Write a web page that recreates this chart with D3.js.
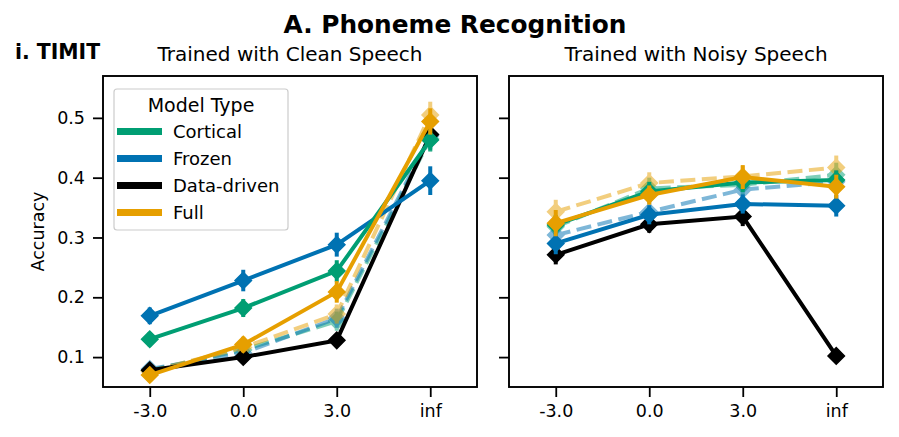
<!DOCTYPE html>
<html>
<head>
<meta charset="utf-8">
<script src="https://cdn.jsdelivr.net/npm/d3@7"></script>
<style>
  body { margin: 0; background: #fff; }
  svg { font-family: "DejaVu Sans", sans-serif; }
</style>
</head>
<body>
<svg id="chart" width="899" height="437"></svg>
<script>
// x categories (SNR in dB)
const snrLabels = ["-3.0", "0.0", "3.0", "inf"];
const modelTypes = ["Cortical", "Frozen", "Data-driven", "Full"];
const modelColors = ["#009e73", "#0072b2", "#000000", "#e69f00"];
const yTicks = [0.1, 0.2, 0.3, 0.4, 0.5];

// trained with clean speech, solid lines
const cleanCortical   = [0.130, 0.182, 0.244, 0.463];
const cleanFrozen     = [0.169, 0.228, 0.288, 0.395];
const cleanDataDriven = [0.078, 0.100, 0.128, 0.472];
const cleanFull       = [0.070, 0.121, 0.209, 0.494];
// clean, dashed (faded) lines
const cleanCorticalDashed = [0.078, 0.112, 0.160, 0.465];
const cleanFrozenDashed   = [0.080, 0.107, 0.165, 0.470];
const cleanFullDashed     = [0.076, 0.116, 0.172, 0.505];

// trained with noisy speech, solid lines
const noisyCortical   = [0.321, 0.377, 0.392, 0.396];
const noisyFrozen     = [0.290, 0.338, 0.356, 0.353];
const noisyDataDriven = [0.271, 0.322, 0.335, 0.102];
const noisyFull       = [0.324, 0.371, 0.401, 0.385];
// noisy, dashed (faded) lines
const noisyCorticalDashed = [0.318, 0.382, 0.388, 0.405];
const noisyFrozenDashed   = [0.304, 0.343, 0.380, 0.393];
const noisyFullDashed     = [0.343, 0.391, 0.402, 0.417];

// error bar half-widths
const cleanCorticalErr   = [0.012, 0.015, 0.018, 0.018];
const cleanFrozenErr     = [0.014, 0.018, 0.020, 0.024];
const cleanDataDrivenErr = [0.008, 0.010, 0.010, 0.012];
const cleanFullErr       = [0.010, 0.013, 0.018, 0.022];
const cleanDashedErr     = [0.010, 0.012, 0.016, 0.022];
const noisyCorticalErr   = [0.016, 0.016, 0.016, 0.016];
const noisyFrozenErr     = [0.018, 0.016, 0.016, 0.018];
const noisyDataDrivenErr = [0.016, 0.014, 0.016, 0.000];
const noisyFullErr       = [0.022, 0.016, 0.020, 0.020];
const noisyDashedErr     = [0.020, 0.018, 0.018, 0.020];

const svg = d3.select("#chart");

const plotTop = 76, plotBottom = 387;
const panels = [
  { left: 103, right: 477, title: "Trained with Clean Speech", showY: true,
    dashed: [
      { values: cleanCorticalDashed, err: cleanDashedErr, color: modelColors[0] },
      { values: cleanFrozenDashed, err: cleanDashedErr, color: modelColors[1] },
      { values: cleanFullDashed, err: cleanDashedErr, color: modelColors[3] }
    ],
    solid: [
      { values: cleanDataDriven, err: cleanDataDrivenErr, color: modelColors[2] },
      { values: cleanFrozen, err: cleanFrozenErr, color: modelColors[1] },
      { values: cleanCortical, err: cleanCorticalErr, color: modelColors[0] },
      { values: cleanFull, err: cleanFullErr, color: modelColors[3] }
    ] },
  { left: 509, right: 883, title: "Trained with Noisy Speech", showY: false,
    dashed: [
      { values: noisyCorticalDashed, err: noisyDashedErr, color: modelColors[0] },
      { values: noisyFrozenDashed, err: noisyDashedErr, color: modelColors[1] },
      { values: noisyFullDashed, err: noisyDashedErr, color: modelColors[3] }
    ],
    solid: [
      { values: noisyDataDriven, err: noisyDataDrivenErr, color: modelColors[2] },
      { values: noisyFrozen, err: noisyFrozenErr, color: modelColors[1] },
      { values: noisyCortical, err: noisyCorticalErr, color: modelColors[0] },
      { values: noisyFull, err: noisyFullErr, color: modelColors[3] }
    ] }
];

const y = d3.scaleLinear().domain([0.05, 0.57]).range([plotBottom, plotTop]);
const diamond = d3.symbol().type(d3.symbolSquare).size(135);

panels.forEach(function(p) {
  const x = d3.scalePoint().domain(snrLabels).range([p.left, p.right]).padding(0.5);
  const g = svg.append("g");

  function drawSeries(s, dashed) {
    const sg = g.append("g").attr("opacity", dashed ? 0.5 : 1);
    const line = d3.line()
      .x(function(d, i) { return x(snrLabels[i]); })
      .y(function(d) { return y(d); });
    sg.append("path")
      .datum(s.values)
      .attr("d", line)
      .attr("fill", "none")
      .attr("stroke", s.color)
      .attr("stroke-width", 4)
      .attr("stroke-dasharray", dashed ? "15,6.5" : null);
    sg.selectAll("line.err")
      .data(s.values)
      .enter().append("line")
        .attr("x1", function(d, i) { return x(snrLabels[i]); })
        .attr("x2", function(d, i) { return x(snrLabels[i]); })
        .attr("y1", function(d, i) { return y(d - s.err[i]); })
        .attr("y2", function(d, i) { return y(d + s.err[i]); })
        .attr("stroke", s.color)
        .attr("stroke-width", 4);
    sg.selectAll("path.mk")
      .data(s.values)
      .enter().append("path")
        .attr("d", diamond)
        .attr("transform", function(d, i) {
          return "translate(" + x(snrLabels[i]) + "," + y(d) + ") rotate(45)";
        })
        .attr("fill", s.color)
        .attr("stroke", s.color)
        .attr("stroke-width", 1.5);
  }

  p.dashed.forEach(function(s) { drawSeries(s, true); });
  p.solid.forEach(function(s) { drawSeries(s, false); });

  // axes
  const xAxis = g.append("g")
    .attr("transform", "translate(0," + plotBottom + ")")
    .call(d3.axisBottom(x).tickSize(10).tickPadding(8));
  const yAxis = g.append("g")
    .attr("transform", "translate(" + p.left + ",0)")
    .call(d3.axisLeft(y).tickValues(yTicks).tickSize(10).tickPadding(8)
      .tickFormat(p.showY ? d3.format(".1f") : ""));
  [xAxis, yAxis].forEach(function(a) {
    a.select(".domain").remove();
    a.selectAll(".tick line").attr("stroke", "#000").attr("stroke-width", 1.8);
    a.selectAll(".tick text").attr("font-size", 17.5).attr("fill", "#000")
      .attr("font-family", "DejaVu Sans");
  });

  g.append("rect")
    .attr("x", p.left).attr("y", plotTop)
    .attr("width", p.right - p.left).attr("height", plotBottom - plotTop)
    .attr("fill", "none").attr("stroke", "#000").attr("stroke-width", 1.9);

  g.append("text")
    .attr("x", (p.left + p.right) / 2).attr("y", 61)
    .attr("text-anchor", "middle").attr("font-size", 20)
    .text(p.title);
});

// y label
svg.append("text")
  .attr("transform", "translate(44," + (plotTop + plotBottom) / 2 + ") rotate(-90)")
  .attr("text-anchor", "middle").attr("font-size", 17.5)
  .text("Accuracy");

// titles
svg.append("text")
  .attr("x", 455).attr("y", 33)
  .attr("text-anchor", "middle").attr("font-size", 24.8).attr("font-weight", "bold")
  .text("A. Phoneme Recognition");
svg.append("text")
  .attr("x", 15).attr("y", 59)
  .attr("font-size", 20.4).attr("font-weight", "bold")
  .text("i. TIMIT");

// legend
const legend = svg.append("g");
legend.append("rect")
  .attr("x", 114).attr("y", 89).attr("width", 174).attr("height", 141)
  .attr("rx", 3).attr("fill", "#fff").attr("fill-opacity", 0.8)
  .attr("stroke", "#cccccc").attr("stroke-width", 1.2);
legend.append("text")
  .attr("x", 201).attr("y", 112)
  .attr("text-anchor", "middle").attr("font-size", 19)
  .text("Model Type");
const entry = legend.selectAll("g.entry")
  .data(modelTypes)
  .enter().append("g")
    .attr("transform", function(d, i) { return "translate(0," + (131.5 + i * 27) + ")"; });
entry.append("line")
  .attr("x1", 117).attr("x2", 162)
  .attr("stroke", function(d, i) { return modelColors[i]; })
  .attr("stroke-width", 7);
entry.append("text")
  .attr("x", 173).attr("y", 6.5)
  .attr("font-size", 18)
  .text(function(d) { return d; });
</script>
</body>
</html>
